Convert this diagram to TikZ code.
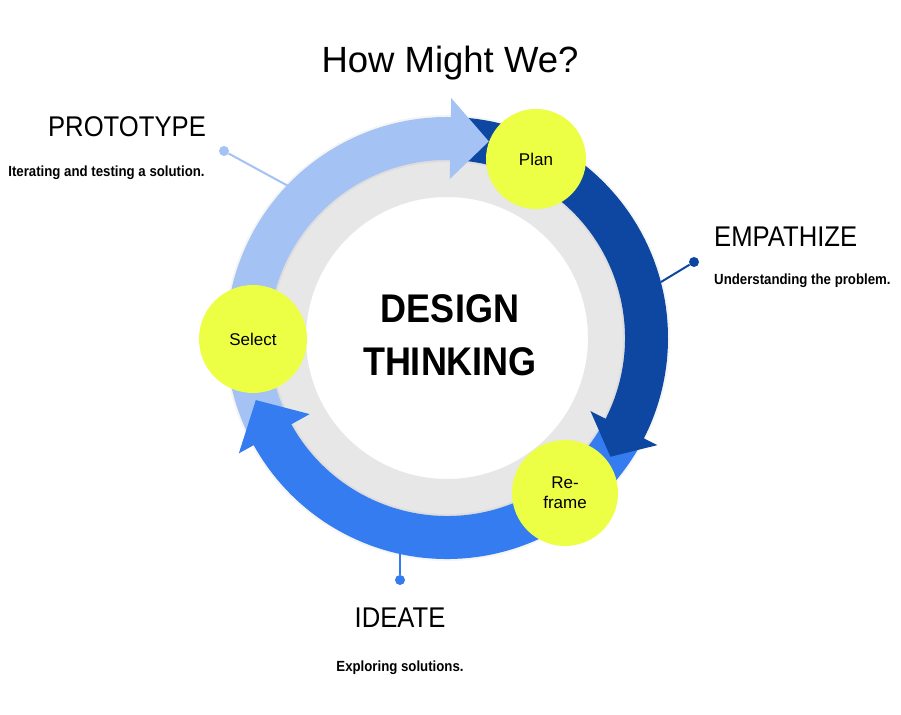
\documentclass[tikz,border=0pt]{standalone}
\usepackage{fontspec}
\setmainfont{Liberation Sans}
\newfontfamily\rob[FakeStretch=0.9]{Liberation Sans}
\definecolor{lightb}{HTML}{A4C2F4}
\definecolor{darkb}{HTML}{0D47A1}
\definecolor{medb}{HTML}{347CF0}
\definecolor{ringgray}{HTML}{E7E7E7}
\definecolor{lime}{HTML}{ECFF45}
\tikzset{
  halo/.style={preaction={draw=black, draw opacity=0.05, line width=5pt},
               preaction={draw=black, draw opacity=0.05, line width=2.5pt}},
  bubble/.style={circle, fill=lime, inner sep=0pt, align=center, font=\fontsize{17}{20}\selectfont},
  phase/.style={inner sep=0pt, font=\rob\fontsize{28.5}{32}\selectfont},
  desc/.style={inner sep=0pt, font=\rob\bfseries\fontsize{14.7}{17}\selectfont},
  pin/.style={circle, fill=#1, inner sep=0pt, minimum size=10pt},
  pinline/.style={draw=#1, line width=2pt}
}
\begin{document}
\begin{tikzpicture}[x=1pt,y=1pt]
\useasboundingbox (0,0) rectangle (901,714);
\fill[white] (0,0) rectangle (901,714);

% gray ring
\fill[ringgray, even odd rule] (447,376) circle (190) (447,376) circle (141);

\begin{scope}[shift={(447,376)}]
  % soft halo under the whole ring
  \draw[black, opacity=0.04, line width=47pt] (0,0) circle (199.5);
  % bands
  \fill[lightb] (207:221) arc[start angle=207, end angle=87, radius=221]
     -- (87:178) arc[start angle=87, end angle=207, radius=178] -- cycle;
  \fill[darkb] (88:221) arc[start angle=88, end angle=-29, radius=221]
     -- (-29:178) arc[start angle=-29, end angle=88, radius=178] -- cycle;
  \fill[medb] (-29:221) arc[start angle=-29, end angle=-153, radius=221]
     -- (-153:178) arc[start angle=-153, end angle=-29, radius=178] -- cycle;
  % heads
  \fill[lightb] (89:159) -- (89:240) -- (78:201) -- cycle;
  \fill[darkb] (-27:161) -- (-27:236) -- (-36:202) -- cycle;
  \fill[medb] (-151:157) -- (-151:238) -- (-162:201) -- cycle;
\end{scope}

% connectors
\node[pin=lightb] (pdot) at (224,563) {};
\coordinate (pend) at (290,527);
\draw[pinline=lightb] (pdot) -- (pend);
\node[pin=darkb] (edot) at (694,452) {};
\coordinate (eend) at (661,432);
\draw[pinline=darkb] (edot) -- (eend);
\node[pin=medb] (idot) at (400,134) {};
\coordinate (iend) at (400,170);
\draw[pinline=medb] (idot) -- (iend);

% bubbles
\node[bubble, minimum size=100pt] (plan) at (536,555) {Plan};
\node[bubble, minimum size=108pt] (select) at (253,375) {Select};
\node[bubble, minimum size=106pt] (reframe) at (565,221) {Re-\\frame};

% texts
\node[anchor=base, inner sep=0pt, font=\fontsize{36.5}{40}\selectfont] (title) at (450,641) {How Might We?};
\node[anchor=base, inner sep=0pt, font=\rob\bfseries\fontsize{40}{44}\selectfont] (design) at (450,391) {DESIGN};
\node[anchor=base, inner sep=0pt, font=\rob\bfseries\fontsize{40}{44}\selectfont] (thinking) at (450,338) {THINKING};

\node[phase, anchor=base] (proto) at (127,577) {PROTOTYPE};
\node[desc, anchor=base] (protod) at (106.5,537) {Iterating and testing a solution.};
\node[phase, anchor=base west] (emp) at (714,467) {EMPATHIZE};
\node[desc, anchor=base west] (empd) at (714,429) {Understanding the problem.};
\node[phase, anchor=base] (ide) at (400,86) {IDEATE};
\node[desc, anchor=base] (ided) at (400,42) {Exploring solutions.};
\end{tikzpicture}
\end{document}
